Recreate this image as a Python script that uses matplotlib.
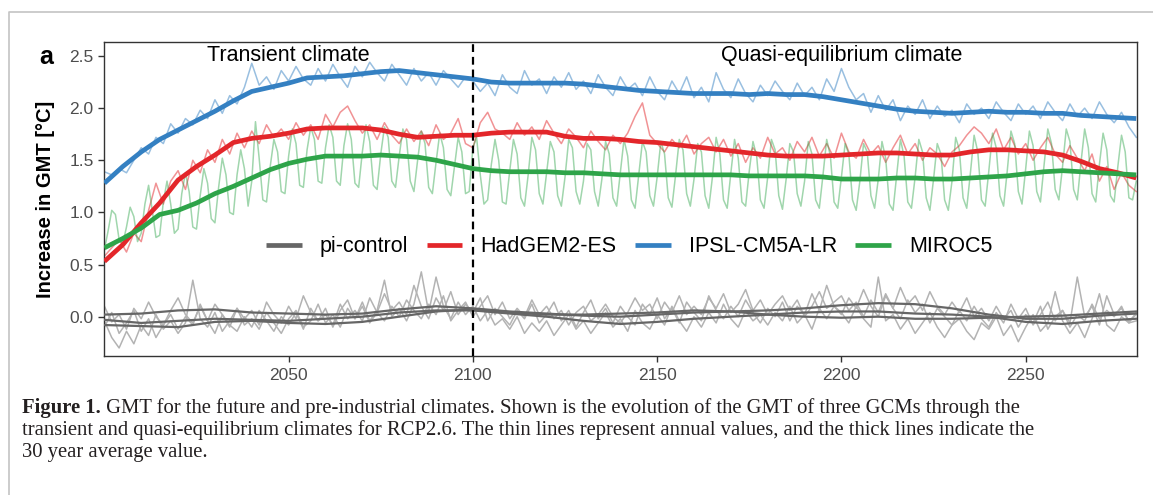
import numpy as np
import matplotlib
matplotlib.use('Agg')
import matplotlib.pyplot as plt
from matplotlib.lines import Line2D

# ---------------- data ----------------
years_thick = np.arange(2000, 2281, 5)      # 30-year means, sampled every 5 years
years_thin = np.arange(2000, 2281, 2)       # annual values (read every 2nd year)
years_annual = np.arange(2000, 2281, 1)     # MIROC5 annual values
years_pi = np.arange(2000, 2281, 10)        # pi-control 30-year means

ipsl_mean = [1.28, 1.44, 1.58, 1.70, 1.79, 1.88, 1.97, 2.07, 2.16, 2.20,
             2.24, 2.29, 2.30, 2.31, 2.33, 2.35, 2.36, 2.34, 2.32, 2.30,
             2.28, 2.25, 2.24, 2.24, 2.24, 2.24, 2.23, 2.21, 2.19, 2.17,
             2.16, 2.15, 2.14, 2.14, 2.14, 2.13, 2.14, 2.13, 2.13, 2.11,
             2.08, 2.05, 2.02, 1.99, 1.97, 1.96, 1.95, 1.96, 1.97, 1.96,
             1.96, 1.95, 1.95, 1.93, 1.92, 1.91, 1.90]
had_mean = [0.53, 0.69, 0.90, 1.09, 1.31, 1.44, 1.55, 1.67, 1.71, 1.73,
            1.76, 1.80, 1.81, 1.81, 1.81, 1.79, 1.75, 1.72, 1.73, 1.74,
            1.74, 1.76, 1.77, 1.77, 1.77, 1.73, 1.71, 1.71, 1.70, 1.68,
            1.67, 1.65, 1.63, 1.61, 1.59, 1.57, 1.55, 1.54, 1.54, 1.54,
            1.55, 1.56, 1.57, 1.57, 1.56, 1.55, 1.55, 1.58, 1.60, 1.60,
            1.59, 1.58, 1.55, 1.49, 1.42, 1.38, 1.33]
miroc_mean = [0.66, 0.75, 0.85, 0.98, 1.02, 1.09, 1.18, 1.25, 1.33, 1.41,
              1.47, 1.51, 1.54, 1.54, 1.54, 1.55, 1.54, 1.53, 1.50, 1.46,
              1.42, 1.40, 1.39, 1.39, 1.39, 1.38, 1.38, 1.37, 1.36, 1.36,
              1.36, 1.36, 1.36, 1.36, 1.36, 1.35, 1.35, 1.35, 1.35, 1.34,
              1.32, 1.32, 1.32, 1.33, 1.33, 1.32, 1.32, 1.33, 1.34, 1.35,
              1.37, 1.39, 1.40, 1.39, 1.38, 1.37, 1.36]

ipsl_annual = [1.39, 1.36, 1.42, 1.38, 1.50, 1.62, 1.56, 1.72, 1.66, 1.85,
               1.76, 1.90, 1.84, 1.98, 1.90, 2.08, 1.95, 2.12, 2.04, 2.20,
               2.43, 2.22, 2.30, 2.18, 2.36, 2.26, 2.40, 2.28, 2.22, 2.38,
               2.26, 2.42, 2.30, 2.20, 2.40, 2.30, 2.44, 2.34, 2.26, 2.42,
               2.32, 2.22, 2.38, 2.26, 2.34, 2.22, 2.36, 2.28, 2.20, 2.30,
               2.26, 2.16, 2.24, 2.12, 2.32, 2.20, 2.14, 2.36, 2.22, 2.28,
               2.14, 2.30, 2.20, 2.34, 2.18, 2.26, 2.14, 2.32, 2.20, 2.12,
               2.30, 2.18, 2.24, 2.12, 2.30, 2.16, 2.08, 2.26, 2.14, 2.30,
               2.10, 2.20, 2.06, 2.34, 2.18, 2.10, 2.28, 2.14, 2.06, 2.22,
               2.12, 2.26, 2.16, 2.08, 2.24, 2.12, 2.20, 2.08, 2.28, 2.16,
               2.38, 2.20, 2.08, 2.14, 1.96, 2.12, 1.98, 2.08, 1.88, 2.02,
               1.94, 2.08, 1.90, 2.02, 1.92, 1.98, 1.86, 2.04, 1.94, 2.00,
               1.90, 2.06, 1.96, 1.88, 2.04, 1.94, 2.02, 1.90, 2.06, 1.96,
               1.88, 2.04, 1.92, 2.00, 1.90, 2.06, 1.94, 1.86, 1.96, 1.82,
               1.72]
had_annual = [0.58, 0.66, 0.74, 0.62, 0.80, 0.72, 1.02, 1.28, 1.08, 1.30,
              1.40, 1.22, 1.50, 1.38, 1.60, 1.48, 1.70, 1.56, 1.76, 1.62,
              1.78, 1.66, 1.84, 1.72, 1.80, 1.70, 1.86, 1.74, 1.84, 1.70,
              1.94, 1.82, 1.96, 2.02, 1.88, 1.76, 1.84, 1.70, 1.86, 1.74,
              1.66, 1.80, 1.68, 1.78, 1.64, 1.84, 1.70, 1.76, 1.90, 1.66,
              1.62, 1.86, 1.96, 1.80, 1.76, 1.70, 1.86, 1.74, 1.82, 1.70,
              1.88, 1.76, 1.66, 1.80, 1.72, 1.62, 1.78, 1.68, 1.60, 1.74,
              1.66, 1.76, 1.92, 2.05, 1.74, 1.66, 1.58, 1.70, 1.62, 1.74,
              1.56, 1.66, 1.72, 1.58, 1.70, 1.54, 1.66, 1.48, 1.62, 1.52,
              1.72, 1.56, 1.62, 1.50, 1.68, 1.58, 1.72, 1.54, 1.66, 1.52,
              1.76, 1.58, 1.52, 1.70, 1.56, 1.64, 1.48, 1.62, 1.74, 1.56,
              1.66, 1.50, 1.62, 1.56, 1.44, 1.58, 1.64, 1.74, 1.82, 1.76,
              1.66, 1.80, 1.60, 1.72, 1.56, 1.66, 1.50, 1.62, 1.72, 1.56,
              1.48, 1.64, 1.52, 1.40, 1.56, 1.30, 1.44, 1.22, 1.38, 1.26,
              1.20]
miroc_annual = [0.64, 0.82, 1.02, 0.98, 0.74, 0.70, 0.86, 1.05, 0.96, 0.72,
                0.80, 1.08, 1.26, 1.02, 0.76, 0.78, 1.10, 1.30, 1.08, 0.80,
                0.84, 1.18, 1.38, 1.20, 0.86, 0.84, 1.16, 1.42, 1.28, 0.94,
                0.90, 1.24, 1.52, 1.36, 1.00, 0.98, 1.36, 1.60, 1.42, 1.06,
                1.30, 1.87, 1.52, 1.12, 1.10, 1.44, 1.70, 1.58, 1.20, 1.18,
                1.54, 1.80, 1.66, 1.26, 1.24, 1.60, 1.82, 1.70, 1.30, 1.28,
                1.62, 1.84, 1.72, 1.30, 1.26, 1.64, 1.85, 1.70, 1.28, 1.24,
                1.58, 1.84, 1.68, 1.26, 1.22, 1.56, 1.82, 1.72, 1.30, 1.24,
                1.54, 1.80, 1.70, 1.30, 1.20, 1.50, 1.78, 1.66, 1.24, 1.18,
                1.48, 1.76, 1.62, 1.22, 1.16, 1.44, 1.72, 1.58, 1.18, 1.20,
                1.62, 1.72, 1.36, 1.08, 1.12, 1.46, 1.70, 1.50, 1.10, 1.08,
                1.40, 1.70, 1.56, 1.14, 1.06, 1.36, 1.72, 1.60, 1.18, 1.08,
                1.38, 1.68, 1.58, 1.16, 1.06, 1.34, 1.70, 1.62, 1.20, 1.08,
                1.30, 1.66, 1.60, 1.20, 1.06, 1.32, 1.68, 1.56, 1.14, 1.06,
                1.38, 1.70, 1.54, 1.12, 1.04, 1.36, 1.68, 1.58, 1.16, 1.06,
                1.34, 1.68, 1.56, 1.14, 1.05, 1.36, 1.70, 1.60, 1.18, 1.06,
                1.32, 1.66, 1.58, 1.16, 1.04, 1.34, 1.72, 1.56, 1.12, 1.04,
                1.38, 1.70, 1.52, 1.10, 1.06, 1.40, 1.68, 1.54, 1.12, 1.04,
                1.34, 1.70, 1.60, 1.16, 1.03, 1.32, 1.66, 1.58, 1.18, 1.06,
                1.30, 1.68, 1.56, 1.12, 1.04, 1.36, 1.70, 1.54, 1.10, 1.04,
                1.34, 1.66, 1.56, 1.12, 1.02, 1.30, 1.66, 1.58, 1.16, 1.04,
                1.32, 1.68, 1.52, 1.08, 1.02, 1.36, 1.70, 1.54, 1.10, 1.04,
                1.34, 1.70, 1.58, 1.14, 1.02, 1.32, 1.66, 1.56, 1.12, 1.02,
                1.30, 1.72, 1.60, 1.14, 1.04, 1.38, 1.74, 1.58, 1.12, 1.06,
                1.40, 1.76, 1.62, 1.16, 1.06, 1.40, 1.78, 1.66, 1.20, 1.08,
                1.42, 1.78, 1.64, 1.20, 1.10, 1.46, 1.80, 1.66, 1.22, 1.12,
                1.44, 1.80, 1.68, 1.22, 1.12, 1.48, 1.80, 1.62, 1.18, 1.10,
                1.46, 1.76, 1.60, 1.16, 1.10, 1.44, 1.74, 1.58, 1.14, 1.12,
                1.30]

pi_annual_1 = [0.10, -0.05, 0.02, -0.12, 0.08, -0.02, 0.14, 0.00, -0.08, 0.06,
               0.18, 0.02, -0.06, 0.10, -0.04, 0.12, 0.02, -0.10, 0.08, -0.02,
               0.06, -0.08, 0.14, 0.02, -0.06, 0.10, -0.02, 0.20, 0.04, -0.04,
               0.08, -0.10, 0.06, 0.16, -0.02, 0.10, -0.06, 0.04, 0.22, 0.06,
               0.14, 0.02, 0.30, 0.10, -0.02, 0.18, 0.06, 0.24, 0.02, 0.12,
               0.04, 0.18, -0.04, 0.08, 0.00, -0.08, 0.06, -0.02, 0.12, -0.06,
               0.02, 0.14, -0.04, 0.06, -0.10, 0.04, 0.16, -0.02, 0.08, -0.06,
               0.10, 0.00, -0.08, 0.12, 0.02, 0.18, -0.02, 0.08, -0.06, 0.14,
               0.04, -0.04, 0.20, 0.06, -0.02, 0.10, 0.00, 0.16, 0.04, -0.06,
               0.08, 0.00, 0.14, -0.04, 0.10, 0.02, 0.22, 0.06, 0.30, 0.10,
               0.02, 0.18, 0.08, 0.26, 0.10, 0.00, 0.20, 0.08, -0.02, 0.16,
               0.04, 0.12, -0.06, 0.08, 0.00, -0.08, 0.06, -0.04, 0.10, -0.02,
               -0.10, 0.04, -0.06, 0.12, -0.02, 0.08, -0.08, 0.02, 0.14, -0.04,
               0.06, -0.06, 0.38, 0.00, 0.10, -0.08, 0.20, 0.02, 0.08, -0.04,
               0.02]
pi_annual_2 = [-0.04, -0.20, -0.30, -0.14, -0.26, -0.08, -0.18, 0.02, -0.12, -0.04,
               -0.16, -0.06, 0.35, -0.02, -0.10, 0.04, -0.14, -0.04, 0.08, -0.08,
               -0.02, -0.12, 0.04, -0.06, -0.16, -0.02, 0.06, -0.10, -0.04, 0.12,
               -0.06, 0.02, -0.10, 0.08, -0.02, 0.14, -0.04, 0.06, 0.35, 0.00,
               0.08, -0.04, 0.12, 0.43, 0.04, 0.38, 0.10, -0.02, 0.14, 0.02,
               0.10, -0.04, 0.06, -0.08, -0.02, -0.12, 0.00, -0.16, -0.06, -0.14,
               -0.04, -0.18, -0.08, 0.02, -0.12, -0.04, -0.16, -0.06, 0.04, -0.10,
               -0.02, -0.14, 0.06, -0.06, -0.12, 0.02, -0.08, 0.10, -0.04, -0.14,
               0.00, -0.10, 0.04, -0.06, 0.12, -0.02, -0.10, 0.06, -0.04, 0.02,
               -0.08, 0.04, -0.04, 0.10, -0.06, 0.02, -0.12, 0.08, -0.02, 0.10,
               0.04, -0.06, 0.10, -0.02, -0.10, 0.38, -0.04, 0.02, -0.12, -0.02,
               -0.16, -0.06, 0.04, -0.10, -0.20, -0.08, -0.02, -0.14, -0.22, -0.06,
               -0.12, 0.00, -0.18, -0.08, -0.24, -0.10, 0.02, -0.14, -0.06, 0.24,
               -0.04, -0.16, -0.06, -0.20, -0.02, 0.22, -0.08, -0.14, 0.00, -0.06,
               -0.04]
pi_annual_3 = [-0.10, 0.04, -0.16, -0.06, 0.06, -0.14, -0.02, -0.20, -0.08, 0.02,
               -0.12, 0.00, -0.08, 0.12, -0.04, -0.16, 0.02, -0.08, -0.14, 0.00,
               -0.10, 0.06, -0.04, -0.14, 0.00, -0.08, 0.04, -0.12, 0.08, -0.04,
               0.02, -0.08, 0.12, -0.02, 0.06, -0.04, 0.18, 0.04, -0.04, 0.10,
               0.00, 0.16, 0.06, -0.02, 0.12, 0.02, 0.20, -0.04, 0.06, 0.14,
               0.00, 0.10, 0.20, 0.02, 0.14, -0.02, 0.08, 0.00, 0.16, 0.02,
               0.10, -0.02, 0.06, -0.08, 0.04, 0.10, -0.04, 0.02, 0.12, 0.00,
               -0.06, 0.04, 0.18, 0.06, 0.12, -0.02, 0.14, 0.04, 0.20, 0.02,
               0.10, 0.02, 0.18, 0.08, 0.22, 0.04, 0.12, 0.26, 0.06, 0.16,
               0.02, 0.12, 0.20, 0.06, 0.16, 0.00, 0.10, 0.24, 0.08, 0.14,
               0.20, 0.06, 0.14, 0.00, 0.16, 0.04, 0.22, 0.08, 0.28, 0.12,
               0.20, 0.06, 0.24, 0.10, 0.02, 0.14, 0.04, 0.18, 0.00, 0.08,
               -0.04, 0.10, -0.02, 0.06, -0.10, 0.02, -0.06, 0.10, -0.12, 0.00,
               0.06, -0.10, 0.02, -0.04, 0.12, -0.02, 0.06, 0.00, 0.10, -0.06,
               0.04]

pi_mean_1 = [0.02, 0.03, 0.06, 0.07, 0.04, 0.03, 0.02, 0.03, 0.07, 0.10,
             0.08, 0.05, 0.03, 0.01, 0.00, 0.02, 0.04, 0.05, 0.06, 0.08,
             0.11, 0.13, 0.12, 0.08, 0.02, -0.02, -0.02, 0.01, 0.03]
pi_mean_2 = [-0.03, -0.06, -0.04, -0.02, -0.03, -0.04, -0.02, 0.00, 0.04, 0.06,
             0.06, 0.03, 0.00, -0.04, -0.07, -0.05, -0.02, 0.00, 0.02, 0.04,
             0.05, 0.05, 0.03, 0.02, 0.00, -0.05, -0.07, -0.04, -0.02]
pi_mean_3 = [-0.08, -0.09, -0.10, -0.05, -0.04, -0.06, -0.07, -0.05, 0.00, 0.05,
             0.07, 0.04, 0.02, 0.02, 0.03, 0.04, 0.06, 0.05, 0.02, 0.00,
             -0.01, 0.00, -0.02, -0.02, -0.01, 0.00, 0.01, 0.03, 0.05]

model_names = ['pi-control', 'HadGEM2-ES', 'IPSL-CM5A-LR', 'MIROC5']
x_ticks = [2050, 2100, 2150, 2200, 2250]
y_ticks = [0.0, 0.5, 1.0, 1.5, 2.0, 2.5]

# ---------------- styling ----------------
C_PI_THICK = '#666666'
C_PI_THIN = '#b3b3b3'
C_RED = '#e3262a'
C_BLUE = '#3480c2'
C_GREEN = '#2ea449'

W, H = 1153, 495
fig = plt.figure(figsize=(W / 100, H / 100), dpi=100)
fig.patch.set_facecolor('white')

ax_l, ax_r, ax_t, ax_b = 104, 1137, 41.7, 356
ax = fig.add_axes([ax_l / W, 1 - ax_b / H, (ax_r - ax_l) / W, (ax_b - ax_t) / H])

# pi-control
for s in (pi_annual_1, pi_annual_2, pi_annual_3):
    ax.plot(years_thin, s, color=C_PI_THIN, lw=1.1, zorder=2)
for s in (pi_mean_1, pi_mean_2, pi_mean_3):
    ax.plot(years_pi, s, color=C_PI_THICK, lw=1.6, zorder=3)

# annual values
ax.plot(years_thin, had_annual, color=C_RED, alpha=0.5, lw=1.1, zorder=2)
ax.plot(years_thin, ipsl_annual, color=C_BLUE, alpha=0.5, lw=1.1, zorder=2)
ax.plot(years_annual, miroc_annual, color=C_GREEN, alpha=0.45, lw=1.1, zorder=2)

# 30-year means
ax.plot(years_thick, ipsl_mean, color=C_BLUE, lw=3.4, zorder=4, solid_capstyle='butt')
ax.plot(years_thick, had_mean, color=C_RED, lw=3.4, zorder=4, solid_capstyle='butt')
ax.plot(years_thick, miroc_mean, color=C_GREEN, lw=3.4, zorder=4, solid_capstyle='butt')

ax.axvline(2100, color='black', lw=1.6, ls=(0, (3.5, 2.2)), zorder=5)

ax.set_xlim(1999.9, 2280.2)
ax.set_ylim(-0.377, 2.637)
ax.set_xticks(x_ticks)
ax.set_xticklabels([str(v) for v in x_ticks])
ax.set_yticks(y_ticks)
ax.set_yticklabels([f'{v:.1f}' for v in y_ticks])

for sp in ax.spines.values():
    sp.set_color('#333333')
    sp.set_linewidth(1.0)
ax.tick_params(direction='out', length=4.5, width=1.0, color='#333333',
               labelcolor='#4d4d4d', labelsize=12.5)
ax.tick_params(axis='y', pad=3)
ax.tick_params(axis='x', pad=4)
for lab in ax.get_xticklabels() + ax.get_yticklabels():
    lab.set_family('Liberation Sans')

ax.text(2050, 2.5, 'Transient climate', ha='center', va='center',
        fontsize=15.5, family='Liberation Sans', color='black', zorder=6)
ax.text(2200, 2.5, 'Quasi-equilibrium climate', ha='center', va='center',
        fontsize=15.5, family='Liberation Sans', color='black', zorder=6)

handles = [Line2D([], [], color=c, lw=3.4, solid_capstyle='butt')
           for c in (C_PI_THICK, C_RED, C_BLUE, C_GREEN)]
leg = ax.legend(handles, model_names, loc='center', bbox_to_anchor=(0.5086, 0.347),
                ncol=4, frameon=False, prop={'family': 'Liberation Sans', 'size': 15.5},
                handlelength=1.65, handletextpad=0.85, columnspacing=0.85,
                borderpad=0.2)
leg.set_zorder(7)

fig.text(46 / W, 1 - 198.9 / H, 'Increase in GMT [°C]', rotation=90, ha='center',
         va='center', fontsize=14.5, fontweight='bold', family='Liberation Sans')
fig.text(46.5 / W, 1 - 56.5 / H, 'a', ha='center', va='center', fontsize=18,
         fontweight='bold', family='Liberation Sans')

# outer frame (open at right/bottom)
fig.add_artist(Line2D([9 / W, 9 / W, 1.0], [0.0, 1 - 11.7 / H, 1 - 11.7 / H],
                      transform=fig.transFigure, color='#c4c4c4', lw=1.2))

# caption
cap_color = '#231f20'
cap_x = 22 / W
cap_size = 14.85
fig.canvas.draw()
renderer = fig.canvas.get_renderer()
t_bold = fig.text(cap_x, 1 - 413 / H, 'Figure 1.', fontsize=cap_size, fontweight='bold',
                  family='Liberation Serif', color=cap_color, va='baseline')
bb = t_bold.get_window_extent(renderer=renderer)
fig.text(bb.x1 / W, 1 - 413 / H,
         ' GMT for the future and pre-industrial climates. Shown is the evolution of the GMT of three GCMs through the',
         fontsize=cap_size, family='Liberation Serif', color=cap_color, va='baseline')
fig.text(cap_x, 1 - 435 / H,
         'transient and quasi-equilibrium climates for RCP2.6. The thin lines represent annual values, and the thick lines indicate the',
         fontsize=cap_size, family='Liberation Serif', color=cap_color, va='baseline')
fig.text(cap_x, 1 - 456.5 / H, '30 year average value.',
         fontsize=cap_size, family='Liberation Serif', color=cap_color, va='baseline')

fig.savefig('out.png', dpi=100)
